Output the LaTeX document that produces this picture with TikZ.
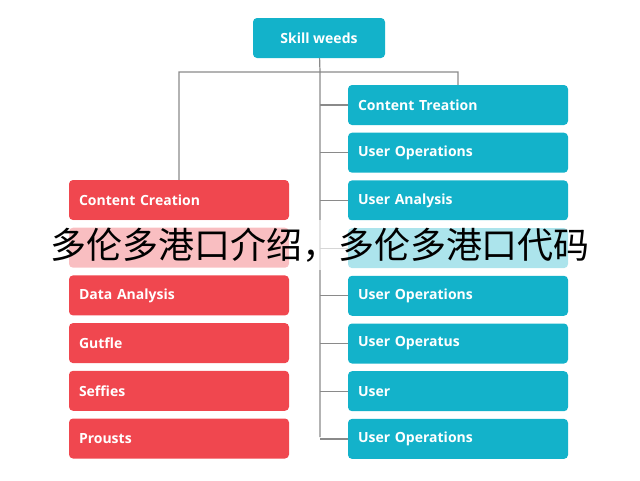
\documentclass[tikz,border=0pt]{standalone}
\usepackage{fontspec}
\setmainfont{Open Sans}
\newfontfamily\cjk{Noto Sans CJK SC}
\usetikzlibrary{positioning}
\definecolor{tealbox}{HTML}{13B2CA}
\definecolor{redbox}{HTML}{F0474F}
\definecolor{wire}{HTML}{8A8A8A}

\begin{document}
\begin{tikzpicture}[%
    x=1pt,
    y=-1pt,
    node distance=7.3pt,
    box/.style={%
      rectangle,
      rounded corners=4pt,
      minimum width=220pt,
      minimum height=40pt,
      text width=200pt,
      align=left,
      text=white,
      font=\bfseries\fontsize{14}{16}\selectfont
    },
    tbox/.style={box, fill=tealbox},
    rbox/.style={box, fill=redbox},
    wire/.style={draw=wire, line width=1.2pt}
  ]
    \useasboundingbox (0,0) rectangle (640,480);
    \node[tbox, minimum width=132pt, text width=, align=center] (root) at (319,38) {Skill weeds};

    \node[tbox] (t1) at (458,105) {Content Treation};
    \node[tbox] (t2) [below=of t1] {User Operations};
    \node[tbox] (t3) [below=of t2] {User Analysis};
    \node[tbox] (t4) [below=of t3] {};
    \node[tbox] (t5) [below=of t4] {User Operations};
    \node[tbox] (t6) [below=of t5] {User Operatus};
    \node[tbox] (t7) [below=of t6] {User};
    \node[tbox] (t8) [below=of t7] {User Operations};

    \node[rbox] (r1) at (179,200) {Content Creation};
    \node[rbox] (r2) [below=of r1] {};
    \node[rbox] (r3) [below=of r2] {Data Analysis};
    \node[rbox] (r4) [below=of r3] {Gutfle};
    \node[rbox] (r5) [below=of r4] {Seffies};
    \node[rbox] (r6) [below=of r5] {Prousts};

    \coordinate (hub) at (320,72);
    \coordinate (stem) at (320,437);
    \path[wire] (root) -- (hub) -- (stem)
          (r1.north) |- (hub) -| (t1.north);
    \foreach \i in {1,...,8}
      \path[wire] (stem |- t\i.west) -- (t\i.west);

    % overlay band
    \fill[white, opacity=0.65] (0,220) rectangle (640,270);
    \node[font=\cjk\fontsize{36}{40}\selectfont] (band) at (320,245) {多伦多港口介绍，多伦多港口代码};
\end{tikzpicture}
\end{document}
